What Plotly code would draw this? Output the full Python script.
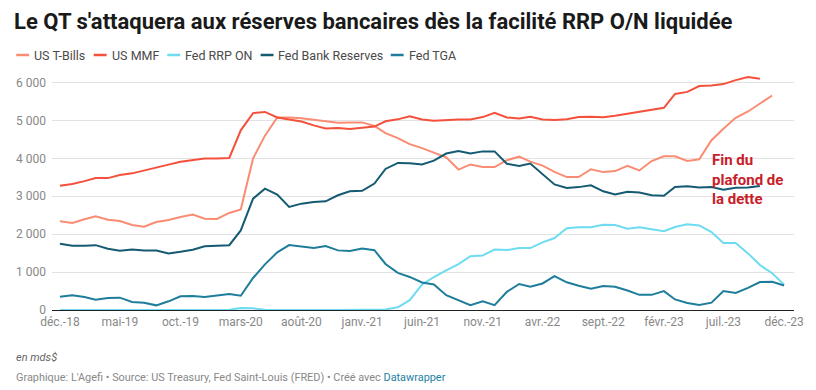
import plotly.graph_objects as go
import pandas as pd

# ---------------- DATA ----------------
start_month = "2018-12-01"
n_months = 61

series_names = ["US T-Bills", "US MMF", "Fed RRP ON", "Fed Bank Reserves", "Fed TGA"]

us_tbills = [2340, 2296, 2393, 2472, 2384, 2349, 2243, 2199, 2323, 2375, 2454, 2516, 2410, 2402, 2560,
             2650, 3998, 4600, 5080, 5080, 5060, 5015, 4972, 4940, 4950, 4950, 4855, 4665, 4535, 4375,
             4270, 4150, 4030, 3705, 3840, 3776, 3770, 3952, 4045, 3915, 3810, 3643, 3506, 3506, 3714,
             3638, 3665, 3805, 3682, 3930, 4057, 4057, 3934, 3978, 4480, 4780, 5070, 5238, 5436, 5660]

us_mmf = [3280, 3325, 3400, 3480, 3480, 3560, 3605, 3675, 3755, 3835, 3910, 3965, 4000, 4000, 4012,
          4740, 5195, 5225, 5080, 5025, 4975, 4870, 4790, 4800, 4775, 4810, 4840, 4980, 5030, 5110,
          5025, 4990, 5010, 5025, 5025, 5090, 5205, 5080, 5055, 5095, 5025, 5010, 5035, 5090, 5100,
          5085, 5125, 5180, 5225, 5285, 5335, 5700, 5755, 5910, 5925, 5960, 6065, 6145, 6100]

fed_rrp_on = [0, 0, 0, 0, 0, 0, 0, 0, 0, 0, 0, 0, 0, 0, 5,
              50, 45, 5, 0, 0, 0, 0, 0, 0, 0, 0, 0, 15, 70, 260,
              670, 870, 1045, 1210, 1418, 1440, 1595, 1580, 1634, 1634, 1785, 1898, 2155, 2180, 2185,
              2250, 2240, 2146, 2185, 2128, 2080, 2190, 2260, 2230, 2058, 1770, 1767, 1494, 1185, 970,
              670]

fed_bank_reserves = [1746, 1693, 1693, 1711, 1614, 1561, 1597, 1570, 1570, 1491, 1535, 1588, 1684, 1702, 1711,
                     2100, 2938, 3202, 3044, 2718, 2806, 2850, 2868, 3026, 3132, 3145, 3335, 3722, 3881, 3872,
                     3837, 3940, 4128, 4194, 4128, 4185, 4185, 3859, 3797, 3863, 3577, 3313, 3220, 3242, 3290,
                     3132, 3050, 3119, 3097, 3026, 3013, 3247, 3265, 3229, 3247, 3172, 3225, 3234, 3274]

fed_tga = [351, 387, 343, 273, 317, 325, 211, 194, 123, 229, 361, 369, 343, 387, 422,
           375, 845, 1205, 1520, 1714, 1670, 1639, 1687, 1573, 1555, 1621, 1578, 1215, 978, 872,
           727, 674, 392, 251, 128, 229, 128, 480, 687, 617, 700, 894, 731, 639, 560,
           630, 612, 515, 400, 400, 498, 278, 185, 132, 194, 498, 450, 582, 736, 745,
           648]

x_tick_labels = ["déc.-18", "mai-19", "oct.-19", "mars-20", "août-20", "janv.-21", "juin-21",
                 "nov.-21", "avr.-22", "sept.-22", "févr.-23", "juil.-23", "déc.-23"]
y_tick_values = [0, 1000, 2000, 3000, 4000, 5000, 6000]
y_tick_labels = ["0", "1 000", "2 000", "3 000", "4 000", "5 000", "6 000"]

title_text = "Le QT s'attaquera aux réserves bancaires dès la facilité RRP O/N liquidée"
note_text = "Fin du<br>plafond de<br>la dette"
unit_text = "en mds$"
source_text = "Graphique: L'Agefi • Source: US Treasury, Fed Saint-Louis (FRED) • Créé avec "

# ---------------- STYLE ----------------
colors = ["#fa8c73", "#f5503c", "#6edcf0", "#145a73", "#1e7d9b"]
FONT = "Roboto"

dates = pd.date_range(start_month, periods=n_months, freq="MS")
all_values = [us_tbills, us_mmf, fed_rrp_on, fed_bank_reserves, fed_tga]

fig = go.Figure()
for name, vals, col in zip(series_names, all_values, colors):
    fig.add_trace(go.Scatter(
        x=dates[:len(vals)], y=vals, mode="lines", name=name,
        line=dict(color=col, width=2), showlegend=False,
        hovertemplate="%{x|%b %Y}: %{y}<extra>" + name + "</extra>"))

W, H = 816, 390
ML, MR, MT, MB = 52, 17, 75, 80
PW, PH = W - ML - MR, H - MT - MB


def px_x(px):
    return (px - ML) / PW


def px_y(py):
    return (H - MB - py) / PH


fig.update_layout(
    width=W, height=H,
    margin=dict(l=ML, r=MR, t=MT, b=MB),
    paper_bgcolor="white", plot_bgcolor="white",
    font=dict(family=FONT, size=12, color="#888888"),
    title=dict(text="<b>" + title_text + "</b>", xref="container", yref="container",
               x=14 / W, xanchor="left", y=1 - 21 / H, yanchor="middle",
               font=dict(family=FONT, size=22, color="#1a1a1a")),
    xaxis=dict(
        type="date",
        range=["2018-11-11", "2023-12-26"],
        tickvals=list(dates[::5]), ticktext=x_tick_labels,
        showgrid=False, zeroline=False,
        showline=True, linecolor="#222222", linewidth=1.3,
        ticks="", tickfont=dict(size=12, color="#888888"),
    ),
    yaxis=dict(
        range=[0, 6200],
        tickvals=y_tick_values, ticktext=y_tick_labels,
        showgrid=True, gridcolor="#e2e2e2", gridwidth=1,
        zeroline=False, showline=False, ticks="",
        ticklabelstandoff=5,
        tickfont=dict(size=12, color="#888888"),
    ),
    showlegend=False,
)

# custom legend (short line swatches like the reference)
legend_x = [16, 94, 168, 262, 393]
for name, col, lx in zip(series_names, colors, legend_x):
    fig.add_shape(type="line", xref="paper", yref="paper",
                  x0=px_x(lx), x1=px_x(lx + 13), y0=px_y(55), y1=px_y(55),
                  line=dict(color=col, width=2.5))
    fig.add_annotation(text=name, xref="paper", yref="paper",
                       x=px_x(lx + 16), y=px_y(55),
                       xanchor="left", yanchor="middle", showarrow=False,
                       font=dict(family=FONT, size=12.5, color="#4a4a4a"))

# debt ceiling annotation
fig.add_annotation(text="<b>" + note_text + "</b>", xref="x", yref="y",
                   x="2023-05-29", y=4250, xanchor="left", yanchor="top",
                   align="left", showarrow=False,
                   font=dict(family=FONT, size=15, color="#c8202a"))

# footer
fig.add_annotation(text="<i>" + unit_text + "</i>", xref="paper", yref="paper",
                   x=px_x(14), y=px_y(357),
                   xanchor="left", yanchor="middle", showarrow=False,
                   font=dict(family=FONT, size=11, color="#666666"))
fig.add_annotation(text=source_text + "<span style='color:#1d81a2'>Datawrapper</span>",
                   xref="paper", yref="paper",
                   x=px_x(14), y=px_y(377),
                   xanchor="left", yanchor="middle", showarrow=False,
                   font=dict(family=FONT, size=10.9, color="#888888"))

fig.write_html("out.html", config={"displayModeBar": False},
               post_script="document.body.style.margin='0';")
